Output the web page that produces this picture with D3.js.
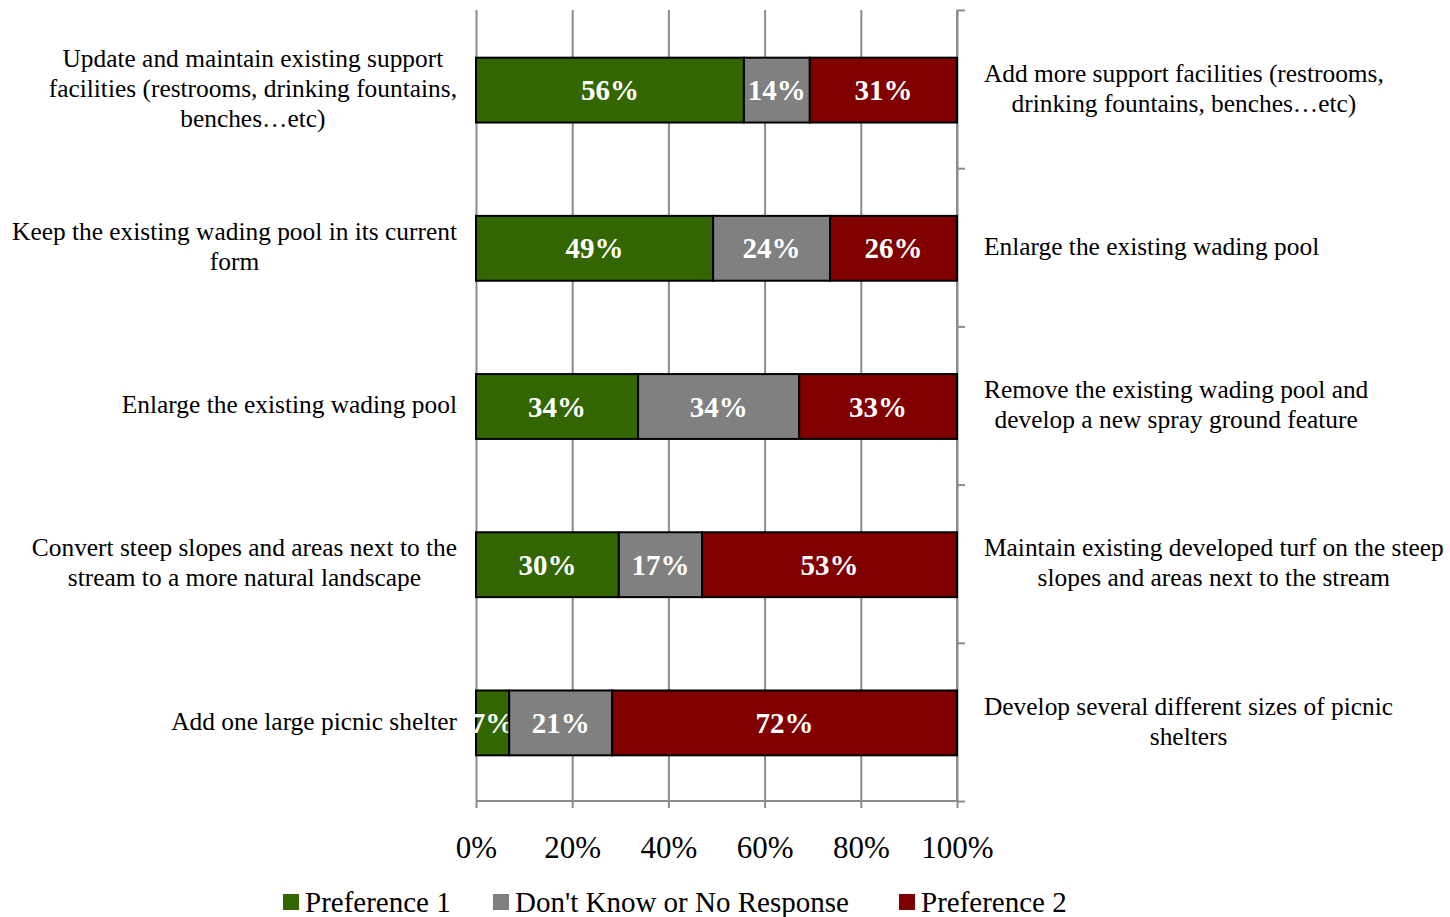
<!DOCTYPE html>
<html><head><meta charset="utf-8">
<script src="https://cdn.jsdelivr.net/npm/d3@7"></script>
<style>body{margin:0;background:#fff}svg{display:block}</style>
</head><body>
<svg id="c" width="1450" height="917"></svg>
<script>
const leftLabels = [
  ["Update and maintain existing support","facilities (restrooms, drinking fountains,","benches\u2026etc)"],
  ["Keep the existing wading pool in its current","form"],
  ["Enlarge the existing wading pool"],
  ["Convert steep slopes and areas next to the","stream to a more natural landscape"],
  ["Add one large picnic shelter"]
];
const rightLabels = [
  ["Add more support facilities (restrooms,","drinking fountains, benches\u2026etc)"],
  ["Enlarge the existing wading pool"],
  ["Remove the existing wading pool and","develop a new spray ground feature"],
  ["Maintain existing developed turf on the steep","slopes and areas next to the stream"],
  ["Develop several different sizes of picnic","shelters"]
];
const seriesNames = ["Preference 1","Don't Know or No Response","Preference 2"];
const pref1 = [0.557, 0.493, 0.337, 0.297, 0.069];
const dontKnow = [0.137, 0.243, 0.335, 0.173, 0.214];
const pref2 = [0.306, 0.264, 0.328, 0.530, 0.717];
const xTicks = [0, 0.2, 0.4, 0.6, 0.8, 1.0];
const colors = ["#336600","#808080","#800000"];

(function(){
const svg = d3.select("#c");
const FONT = "'Liberation Serif', 'DejaVu Serif', serif";
const L = 476, R = 957, T = 10, B = 801;
const x = d3.scaleLinear().domain([0,1]).range([L,R]);
const yb = d3.scaleBand().domain(d3.range(5)).range([T,B]).paddingInner(0.59).paddingOuter(0.295);
const yLin = d3.scaleLinear().domain([0,5]).range([T,B]);

const grid = svg.append("g").attr("transform",`translate(0,${B})`)
  .call(d3.axisBottom(x).tickValues(xTicks).tickSize(-(B-T)).tickFormat(""));
grid.select(".domain").remove();
grid.selectAll("line").attr("stroke","#8c8c8c").attr("stroke-width",2);

const xa = svg.append("g").attr("transform",`translate(0,${B})`)
  .call(d3.axisBottom(x).tickValues(xTicks).tickSize(7).tickPadding(28).tickFormat(d3.format(".0%")));
xa.select(".domain").attr("d",`M${L},0H${R}`).attr("stroke","#8c8c8c").attr("stroke-width",2);
xa.selectAll("line").attr("stroke","#8c8c8c").attr("stroke-width",2);
xa.selectAll("text").attr("font-family",FONT).attr("font-size",31).attr("fill","#000");

const ya = svg.append("g").attr("transform",`translate(${R},0)`)
  .call(d3.axisRight(yLin).tickValues(d3.range(6)).tickSize(8).tickFormat(""));
ya.select(".domain").attr("d",`M0,${T}V${B}`).attr("stroke","#8c8c8c").attr("stroke-width",2);
ya.selectAll("line").attr("stroke","#8c8c8c").attr("stroke-width",2);

const rows = d3.range(5).map(i => [pref1[i], dontKnow[i], pref2[i]]);
const fmt = d3.format(".0%");
rows.forEach((vals,i) => {
  let acc = 0;
  vals.forEach((v,j) => {
    const x0 = x(acc), x1 = x(acc+v);
    svg.append("rect").attr("x",x0).attr("y",yb(i)+1).attr("width",x1-x0).attr("height",yb.bandwidth())
      .attr("fill",colors[j]).attr("stroke","#000").attr("stroke-width",2);
    svg.append("text").attr("x",(x0+x1)/2).attr("y",yb(i)+1+yb.bandwidth()/2).attr("dy","0.35em")
      .attr("text-anchor","middle").attr("font-family",FONT).attr("font-weight","bold")
      .attr("font-size",29).attr("fill","#fff").text(fmt(v));
    acc += v;
  });
});

const LH = 30;
function drawLabel(lines, i, side){
  const g = svg.append("g");
  const cy = yb(i)+yb.bandwidth()/2;
  const n = lines.length;
  const ts = lines.map((t,k) => g.append("text").attr("font-family",FONT).attr("font-size",25.4)
    .attr("fill","#000").attr("text-anchor","middle")
    .attr("y", cy + (k-(n-1)/2)*LH).attr("dy","0.3em").text(t));
  const w = d3.max(ts, t => t.node().getComputedTextLength());
  const cx = side === "left" ? 457 - w/2 : 984 + w/2;
  ts.forEach(t => t.attr("x",cx));
}
leftLabels.forEach((l,i)=>drawLabel(l,i,"left"));
rightLabels.forEach((l,i)=>drawLabel(l,i,"right"));

const legX = [283, 493, 899];
seriesNames.forEach((s,j) => {
  svg.append("rect").attr("x",legX[j]).attr("y",894).attr("width",16).attr("height",16).attr("fill",colors[j]);
  svg.append("text").attr("x",legX[j]+22).attr("y",902).attr("dy","0.35em").attr("font-family",FONT)
    .attr("font-size",29).attr("fill","#000").text(s);
});
})();
</script>
</body></html>
